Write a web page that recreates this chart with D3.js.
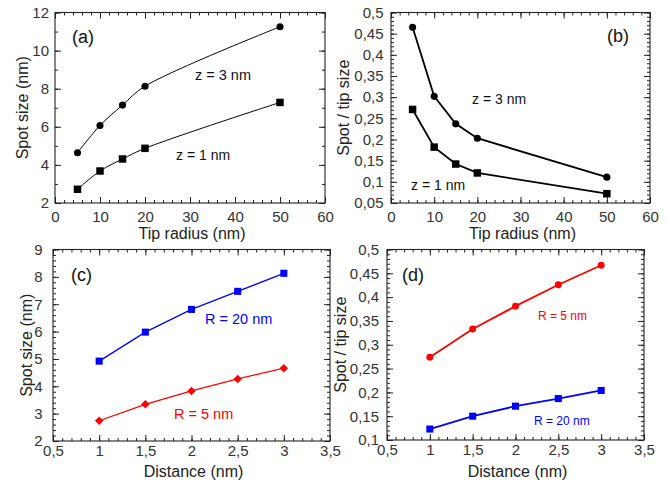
<!DOCTYPE html>
<html>
<head>
<meta charset="utf-8">
<script src="https://cdn.jsdelivr.net/npm/d3@7"></script>
<style>
  body { margin: 0; background: #fff; }
  svg { display: block; }
  text { font-family: "Liberation Sans", Arial, Helvetica, sans-serif; }
</style>
</head>
<body>
<svg id="chart" width="667" height="481"></svg>
<script>
// ---- data ----
// (a)/(b): tip radius sweep at two tip-sample distances
const tipRadius = [5, 10, 15, 20, 50];
const spotZ3 = [4.64, 6.07, 7.14, 8.13, 11.25];
const spotZ1 = [2.72, 3.68, 4.31, 4.87, 7.28];
const ratioZ3 = [0.465, 0.302, 0.237, 0.203, 0.111];
const ratioZ1 = [0.271, 0.182, 0.142, 0.121, 0.072];

// (c)/(d): distance sweep at two tip radii
const distance = [1, 1.5, 2, 2.5, 3];
const spotR20 = [4.92, 5.98, 6.81, 7.47, 8.13];
const spotR5 = [2.74, 3.34, 3.83, 4.27, 4.66];
const ratioR5 = [0.274, 0.333, 0.381, 0.426, 0.467];
const ratioR20 = [0.123, 0.150, 0.171, 0.187, 0.204];

// tick labels
const tipTicks = [0, 10, 20, 30, 40, 50, 60];
const spotTicksA = [2, 4, 6, 8, 10, 12];
const ratioTicksB = [0.05, 0.1, 0.15, 0.2, 0.25, 0.3, 0.35, 0.4, 0.45, 0.5];
const distTicks = [0.5, 1, 1.5, 2, 2.5, 3, 3.5];
const spotTicksC = [2, 3, 4, 5, 6, 7, 8, 9];
const ratioTicksD = [0.1, 0.15, 0.2, 0.25, 0.3, 0.35, 0.4, 0.45, 0.5];

// ---- drawing ----
const svg = d3.select("#chart");
const fmt = d3.formatLocale({ decimal: ",", thousands: ".", grouping: [3], currency: ["", ""] }).format(".2~f");
const FRAME = "#222";

function minorValues(domain, step) {
  const n = Math.round((domain[1] - domain[0]) / step);
  return d3.range(n + 1).map(i => +(domain[0] + i * step).toFixed(6));
}

function styleAxis(sel, size) {
  sel.select(".domain").remove();
  sel.selectAll(".tick line").attr("stroke", FRAME).attr("stroke-width", 1);
  sel.attr("font-size", size).attr("font-family", null);
  sel.selectAll(".tick text").attr("fill", "#333");
}

function panel(c) {
  const x = d3.scaleLinear().domain(c.xDomain).range([c.left, c.right]);
  const y = d3.scaleLinear().domain(c.yDomain).range([c.bottom, c.top]);
  const g = svg.append("g");

  const mx = minorValues(c.xDomain, c.xMinor);
  const my = minorValues(c.yDomain, c.yMinor);

  // minor ticks on all four sides, pointing inward
  g.append("g").attr("transform", `translate(0,${c.bottom})`)
    .call(d3.axisBottom(x).tickValues(mx).tickSize(-3).tickFormat("")).call(s => styleAxis(s, 15));
  g.append("g").attr("transform", `translate(0,${c.top})`)
    .call(d3.axisTop(x).tickValues(mx).tickSize(-3).tickFormat("")).call(s => styleAxis(s, 15));
  g.append("g").attr("transform", `translate(${c.left},0)`)
    .call(d3.axisLeft(y).tickValues(my).tickSize(-3).tickFormat("")).call(s => styleAxis(s, 15));
  g.append("g").attr("transform", `translate(${c.right},0)`)
    .call(d3.axisRight(y).tickValues(my).tickSize(-3).tickFormat("")).call(s => styleAxis(s, 15));

  // major ticks, labelled on bottom and left
  g.append("g").attr("transform", `translate(0,${c.bottom})`)
    .call(d3.axisBottom(x).tickValues(c.xTicks).tickSize(-6).tickPadding(c.xPad).tickFormat(fmt))
    .call(s => styleAxis(s, 15));
  g.append("g").attr("transform", `translate(0,${c.top})`)
    .call(d3.axisTop(x).tickValues(c.xTicks).tickSize(-6).tickFormat("")).call(s => styleAxis(s, 15));
  g.append("g").attr("transform", `translate(${c.left},0)`)
    .call(d3.axisLeft(y).tickValues(c.yTicks).tickSize(-6).tickPadding(c.yPad).tickFormat(fmt))
    .call(s => styleAxis(s, 15));
  g.append("g").attr("transform", `translate(${c.right},0)`)
    .call(d3.axisRight(y).tickValues(c.yTicks).tickSize(-6).tickFormat("")).call(s => styleAxis(s, 15));

  // frame
  g.append("rect")
    .attr("x", c.left).attr("y", c.top)
    .attr("width", c.right - c.left).attr("height", c.bottom - c.top)
    .attr("fill", "none").attr("stroke", FRAME).attr("stroke-width", 1.1);

  // series
  c.series.forEach(s => {
    const pts = d3.zip(s.x, s.y);
    const line = d3.line().x(d => x(d[0])).y(d => y(d[1])).curve(s.curve || d3.curveLinear);
    g.append("path").datum(pts)
      .attr("d", line).attr("fill", "none")
      .attr("stroke", s.color).attr("stroke-width", s.width);
    const sym = d3.symbol().type(s.symbol).size(s.size);
    g.selectAll(null).data(pts).join("path")
      .attr("d", sym)
      .attr("transform", d => `translate(${x(d[0])},${y(d[1])})${s.rotate ? " rotate(45)" : ""}`)
      .attr("fill", s.color);
  });

  // panel letter
  g.append("text").attr("x", c.tag[1]).attr("y", c.tag[2])
    .attr("font-size", 18).attr("fill", "#111").text(c.tag[0]);

  // series annotations
  c.notes.forEach(n => {
    g.append("text").attr("x", n.x).attr("y", n.y)
      .attr("font-size", n.size).attr("fill", n.color).text(n.text);
  });

  // axis titles
  g.append("text")
    .attr("x", (c.left + c.right) / 2 + 2).attr("y", c.xTitleY)
    .attr("text-anchor", "middle").attr("font-size", 16).attr("fill", "#222")
    .text(c.xTitle);
  g.append("text")
    .attr("transform", `translate(${c.yTitleX},${(c.top + c.bottom) / 2}) rotate(-90)`)
    .attr("text-anchor", "middle").attr("font-size", 16).attr("fill", "#222")
    .text(c.yTitle);
}

const circle = d3.symbolCircle, square = d3.symbolSquare;

panel({
  left: 55, right: 325, top: 12.5, bottom: 203,
  xDomain: [0, 60], yDomain: [2, 12], xTicks: tipTicks, yTicks: spotTicksA,
  xMinor: 2, yMinor: 1, xPad: 8, yPad: 6,
  xTitle: "Tip radius (nm)", yTitle: "Spot size (nm)", xTitleY: 238.5, yTitleX: 28,
  tag: ["(a)", 72, 43],
  series: [
    { x: tipRadius, y: spotZ3, color: "#000", width: 1, symbol: circle, size: 40, curve: d3.curveCatmullRom },
    { x: tipRadius, y: spotZ1, color: "#000", width: 1, symbol: square, size: 56, curve: d3.curveCatmullRom }
  ],
  notes: [
    { text: "z = 3 nm", x: 195, y: 80, size: 14.5, color: "#111" },
    { text: "z = 1 nm", x: 176, y: 160, size: 14, color: "#111" }
  ]
});

panel({
  left: 391, right: 650, top: 12.5, bottom: 203,
  xDomain: [0, 60], yDomain: [0.05, 0.5], xTicks: tipTicks, yTicks: ratioTicksB,
  xMinor: 2, yMinor: 0.01, xPad: 8, yPad: 7.5,
  xTitle: "Tip radius (nm)", yTitle: "Spot / tip size", xTitleY: 238.5, yTitleX: 349,
  tag: ["(b)", 607, 42],
  series: [
    { x: tipRadius, y: ratioZ3, color: "#000", width: 1.8, symbol: circle, size: 40 },
    { x: tipRadius, y: ratioZ1, color: "#000", width: 1.8, symbol: square, size: 56 }
  ],
  notes: [
    { text: "z = 3 nm", x: 472, y: 104, size: 14, color: "#111" },
    { text: "z = 1 nm", x: 411, y: 190, size: 14, color: "#111" }
  ]
});

panel({
  left: 53, right: 330, top: 249.5, bottom: 441,
  xDomain: [0.5, 3.5], yDomain: [2, 9], xTicks: distTicks, yTicks: spotTicksC,
  xMinor: 0.1, yMinor: 0.2, xPad: 4.5, yPad: 10.5,
  xTitle: "Distance (nm)", yTitle: "Spot size (nm)", xTitleY: 476.5, yTitleX: 32,
  tag: ["(c)", 71, 281],
  series: [
    { x: distance, y: spotR20, color: "#0000ff", width: 1.3, symbol: square, size: 50 },
    { x: distance, y: spotR5, color: "#ff0000", width: 1.3, symbol: square, size: 36, rotate: true }
  ],
  notes: [
    { text: "R = 20 nm", x: 205, y: 324, size: 14.5, color: "#0000ff" },
    { text: "R = 5 nm", x: 174, y: 418.5, size: 14.5, color: "#ff0000" }
  ]
});

panel({
  left: 387, right: 644, top: 249.5, bottom: 440,
  xDomain: [0.5, 3.5], yDomain: [0.1, 0.5], xTicks: distTicks, yTicks: ratioTicksD,
  xMinor: 0.1, yMinor: 0.01, xPad: 4.5, yPad: 8,
  xTitle: "Distance (nm)", yTitle: "Spot / tip size", xTitleY: 476.5, yTitleX: 346,
  tag: ["(d)", 402, 281],
  series: [
    { x: distance, y: ratioR5, color: "#ff0000", width: 1.8, symbol: circle, size: 38 },
    { x: distance, y: ratioR20, color: "#0000ff", width: 1.8, symbol: square, size: 50 }
  ],
  notes: [
    { text: "R = 5 nm", x: 538, y: 319.5, size: 12, color: "#ff0000" },
    { text: "R = 20 nm", x: 534, y: 424.5, size: 12, color: "#0000ff" }
  ]
});
</script>
</body>
</html>
